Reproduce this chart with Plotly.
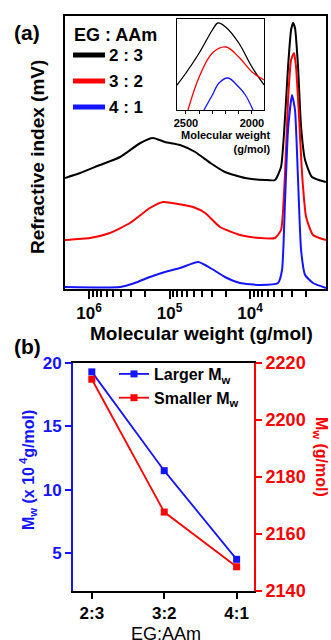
import plotly.graph_objects as go

W, H = 331, 640

# ---------- data: panel (a) GPC traces (molecular weight in g/mol, signal in arb. units)
mw_black = [1.99e6, 1.29e6, 7.3e5, 4.1e5, 2.3e5, 1.6e5, 1.14e5, 7.4e4, 4.8e4, 3.1e4, 2.05e4,
            1.15e4, 6500, 4890, 4120, 3670, 3370, 3090, 2920, 2760, 2530, 2320, 2070, 1700, 1140]
ri_black = [111, 116, 124, 132, 146, 151, 147, 144, 137, 126, 117,
            111, 109, 109, 122, 172, 222, 259, 266, 261, 222, 162, 129, 112, 107]

mw_red = [1.99e6, 9.7e5, 5.5e5, 3.1e5, 1.75e5, 1.2e5, 7.8e4, 5.1e4, 3.6e4, 2.36e4, 1.33e4,
          7500, 4890, 4120, 3670, 3370, 3090, 2840, 2680, 2460, 2260, 2010, 1650, 1140]
ri_red = [49, 51, 56, 66, 81, 87, 85, 82, 76, 62, 54,
          51, 51, 59, 116, 189, 229, 236, 222, 172, 116, 72, 54, 49]

mw_blue = [1.99e6, 4.1e5, 2.7e5, 1.75e5, 1.14e5, 7.4e4, 4.4e4, 3.1e4, 2.05e4, 1.33e4, 7500,
           4490, 4000, 3670, 3370, 3010, 2760, 2530, 2320, 2070, 1650, 1140]
ri_blue = [2, 2, 6, 12, 17, 21, 27, 21, 12, 6, 4,
           6, 19, 89, 159, 194, 179, 109, 39, 14, 6, 1]

# inset (zoom of the low-MW peak)
in_mw_black = [2568, 2500, 2400, 2300, 2258, 2200, 2100, 2000, 1909]
in_black = [25, 37, 57, 80, 87, 83, 67, 43, 25]
in_mw_red = [2485, 2400, 2300, 2197, 2100, 2000, 1909]
in_red = [0, 33, 57, 63, 53, 38, 30]
in_mw_blue = [2364, 2300, 2250, 2182, 2100, 2050, 1992]
in_blue = [0, 15, 27, 32, 23, 15, 0]

legend_a = ["2 : 3", "3 : 2", "4 : 1"]

# ---------- data: panel (b)
ratios = ["2:3", "3:2", "4:1"]
larger_mw = [19.3, 11.5, 4.5]        # x 10^4 g/mol
smaller_mw = [2214.3, 2167.7, 2148.5]  # g/mol

main_ticks = [1e6, 1e5, 1e4]
main_ticktext = ["10<sup>6</sup>", "10<sup>5</sup>", "10<sup>4</sup>"]

BLACK, RED, BLUE = "#000000", "#ff0000", "#1414ff"
FONT = "Liberation Sans, Arial, sans-serif"


def fx(p):
    return p / W


def fy(p):
    return 1 - p / H


fig = go.Figure()

for mw, ri, c in [(mw_black, ri_black, BLACK), (mw_red, ri_red, RED), (mw_blue, ri_blue, BLUE)]:
    fig.add_trace(go.Scatter(x=mw, y=ri, mode="lines", line=dict(color=c, width=2, shape="spline", smoothing=0.5),
                             xaxis="x", yaxis="y", showlegend=False, hoverinfo="skip"))

for mw, ri, c in [(in_mw_black, in_black, BLACK), (in_mw_red, in_red, RED), (in_mw_blue, in_blue, BLUE)]:
    fig.add_trace(go.Scatter(x=mw, y=ri, mode="lines", line=dict(color=c, width=1.3, shape="spline"),
                             xaxis="x2", yaxis="y2", showlegend=False, hoverinfo="skip", cliponaxis=True))

fig.add_trace(go.Scatter(x=ratios, y=larger_mw, mode="lines+markers", name="Larger M<sub>w</sub>",
                         line=dict(color=BLUE, width=1.8), marker=dict(symbol="square", size=7, color=BLUE),
                         xaxis="x3", yaxis="y3"))
fig.add_trace(go.Scatter(x=ratios, y=smaller_mw, mode="lines+markers", name="Smaller M<sub>w</sub>",
                         line=dict(color=RED, width=1.8), marker=dict(symbol="square", size=7, color=RED),
                         xaxis="x3", yaxis="y4"))

minor_vals = [m * 10 ** e for e in (3, 4, 5) for m in range(2, 10)]

tickfont_b = dict(family=FONT, size=17, color="black", weight="bold")

fig.update_layout(
    width=W, height=H, margin=dict(l=0, r=0, t=0, b=0, autoexpand=False),
    paper_bgcolor="white", plot_bgcolor="white",
    font=dict(family=FONT, color="black"),
    xaxis=dict(domain=[fx(65), fx(326)], anchor="y", type="log", autorange=False, automargin=False,
               range=[6.298, 3.056], tickvals=main_ticks, ticktext=main_ticktext,
               ticks="outside", ticklen=8, tickwidth=1.5, tickcolor="black",
               minor=dict(tickvals=minor_vals, ticks="outside", ticklen=6, tickwidth=1.5, tickcolor="black"),
               showline=True, linecolor="black", linewidth=2, mirror=True, showgrid=False, zeroline=False,
               tickfont=tickfont_b),
    yaxis=dict(domain=[fy(289), fy(16)], anchor="x", range=[0, 273], showticklabels=False, ticks="",
               automargin=False,
               showline=True, linecolor="black", linewidth=2, mirror=True, showgrid=False, zeroline=False),
    xaxis2=dict(domain=[fx(177), fx(264)], anchor="y2", range=[2568, 1909], tickvals=[2500, 2000],
                automargin=False,
                ticks="outside", ticklen=3, tickwidth=1.2, tickcolor="black",
                minor=dict(tickvals=[2400, 2300, 2200, 2100], ticks="outside", ticklen=3, tickwidth=1.2,
                           tickcolor="black"),
                showline=True, linecolor="black", linewidth=1.3, mirror=True, showgrid=False, zeroline=False,
                tickfont=dict(family=FONT, size=11, color="black", weight="bold")),
    yaxis2=dict(domain=[fy(110), fy(19)], anchor="x2", range=[0, 91], showticklabels=False, ticks="",
                automargin=False,
                showline=True, linecolor="black", linewidth=1.3, mirror=True, showgrid=False, zeroline=False),
    xaxis3=dict(domain=[fx(73), fx(254)], anchor="y3", type="category", range=[-0.26, 2.24],
                automargin=False,
                ticks="outside", ticklen=6, tickwidth=2, tickcolor="black",
                showline=True, linecolor="black", linewidth=2, mirror=True, showgrid=False, zeroline=False,
                tickfont=tickfont_b),
    yaxis3=dict(domain=[fy(591), fy(363)], anchor="x3", range=[2, 20], tickvals=[5, 10, 15, 20],
                automargin=False,
                ticks="outside", ticklen=6, tickwidth=2, tickcolor=BLUE,
                showline=True, linecolor=BLUE, linewidth=2, showgrid=False, zeroline=False,
                tickfont=dict(family=FONT, size=17, color=BLUE, weight="bold")),
    yaxis4=dict(domain=[fy(591), fy(363)], anchor="x3", overlaying="y3", side="right", range=[2140, 2220],
                automargin=False,
                tickvals=[2140, 2160, 2180, 2200, 2220],
                ticks="outside", ticklen=6, tickwidth=2, tickcolor=RED,
                showline=True, linecolor=RED, linewidth=2, showgrid=False, zeroline=False,
                tickfont=dict(family=FONT, size=18, color=RED, weight="bold")),
    legend=dict(x=fx(114), y=fy(357), xanchor="left", yanchor="top", bgcolor="rgba(0,0,0,0)",
                font=dict(family=FONT, size=16, color="black", weight="bold"),
                itemwidth=30, tracegroupgap=0),
)

ann = []


def add_text(text, x, y, size, color="black", bold=True, angle=0, xanchor="center", yanchor="middle", align="center"):
    ann.append(dict(text=text, x=fx(x), y=fy(y), xref="paper", yref="paper", showarrow=False,
                    xanchor=xanchor, yanchor=yanchor, textangle=angle, align=align,
                    font=dict(family=FONT, size=size, color=color, weight="bold" if bold else "normal")))


add_text("(a)", 27, 32, 21)
add_text("(b)", 27, 346, 21)
add_text("Refractive index (mV)", 37, 157, 19, angle=-90)
add_text("Molecular weight (g/mol)", 201, 333, 19)
add_text("Molecular weight<br>(g/mol)", 273, 142, 11, xanchor="right", align="right")
add_text("EG : AAm", 72, 35, 18, xanchor="left")
for lab, yy in zip(legend_a, [55, 81, 107]):
    add_text(lab, 107, yy, 17, xanchor="left")
add_text("EG:AAm", 166, 634, 18, bold=False)
add_text("M<sub>w</sub> (x 10<sup> 4</sup>g/mol)", 28, 470, 16, color=BLUE, angle=-90)
add_text("M<sub>w</sub> (g/mol)", 321, 457, 16, color=RED, angle=90)

fig.update_layout(annotations=ann)

shapes = []
for c, yy in zip([BLACK, RED, BLUE], [55, 81, 107]):
    shapes.append(dict(type="line", xref="paper", yref="paper", x0=fx(73), x1=fx(105), y0=fy(yy), y1=fy(yy),
                       line=dict(color=c, width=5)))
fig.update_layout(shapes=shapes)

fig.write_html("out.html", config={"displayModeBar": False},
               post_script="document.body.style.margin='0';document.body.style.overflow='hidden';")
